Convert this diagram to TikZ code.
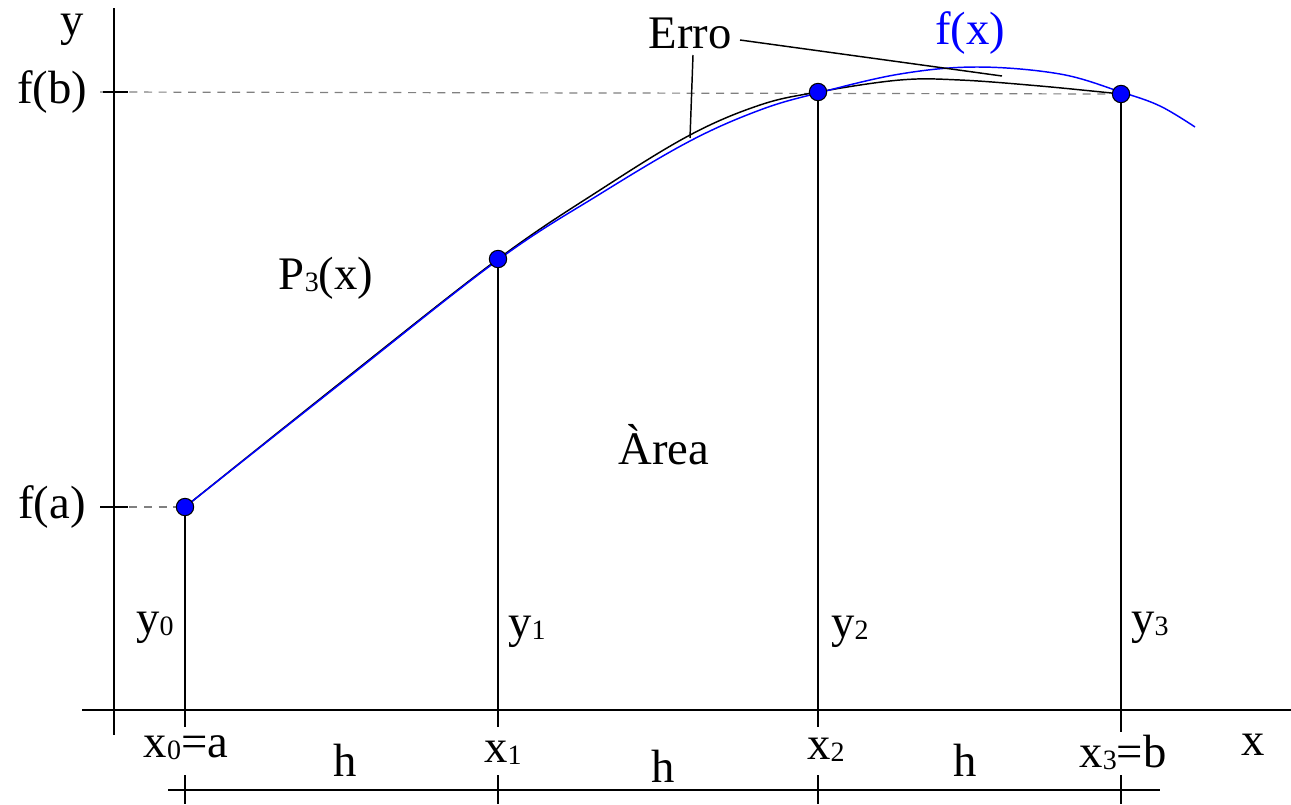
\documentclass[tikz,border=0pt]{standalone}
\usepackage{fontspec}
\setmainfont{Liberation Serif}
\newcommand{\sbs}[1]{\raisebox{-1.5pt}{\fontsize{21}{21}\selectfont #1}}
\begin{document}
\begin{tikzpicture}[x=0.75pt,y=-0.75pt,
  lbl/.style={font=\fontsize{35}{37}\selectfont, inner sep=0pt},
  axis/.style={line width=1.3pt},
  vline/.style={line width=1.3pt},
  guide/.style={gray, line width=0.9pt, dash pattern=on 6pt off 5pt},
  dot/.style={circle, fill=blue, draw=black, line width=0.8pt, minimum size=13pt, inner sep=0pt},
  fcurve/.style={blue, line width=1.1pt},
  pcurve/.style={black, line width=1.1pt}]
\useasboundingbox (0,0) rectangle (1291,804);
% axes
\coordinate (ytop) at (114,8); \coordinate (ybot) at (114,735);
\coordinate (xl) at (82,710); \coordinate (xr) at (1291,710);
\draw[axis] (ytop) -- (ybot);
\draw[axis] (xl) -- (xr);
% points
\coordinate (p0) at (185,507);
\coordinate (p1) at (498,259);
\coordinate (p2) at (818,92);
\coordinate (p3) at (1121,94);
% guides
\coordinate (fbl) at (100,92); \coordinate (fal) at (100,507);
\draw[guide] (fbl) -- (p3);
\draw[guide] (fal) -- (p0);
\coordinate (fbt1) at (103,92); \coordinate (fbt2) at (128,92);
\coordinate (fat1) at (100,507); \coordinate (fat2) at (128,507);
\draw[axis] (fbt1) -- (fbt2);
\draw[axis] (fat1) -- (fat2);
% verticals
\coordinate (b0) at (185,727); \coordinate (b1) at (498,727);
\coordinate (b2) at (818,727); \coordinate (b3) at (1121,732);
\draw[vline] (p0) -- (b0);
\draw[vline] (p1) -- (b1);
\draw[vline] (p2) -- (b2);
\draw[vline] (p3) -- (b3);
% curves
\draw[pcurve] plot[smooth, tension=0.6] coordinates {(185,507) (340,383) (498,259) (600,190) (690,135) (760,105) (818,92) (900,80) (960,80) (1040,86) (1121,94)};
\draw[fcurve] plot[smooth, tension=0.6] coordinates {(185,507) (340,384) (498,260) (600,194) (690,141) (760,110) (818,93) (900,74) (977,67) (1060,74) (1121,92) (1160,106) (1195,127)};
% dots
\node[dot] (d0) at (p0) {};
\node[dot] (d1) at (p1) {};
\node[dot] (d2) at (p2) {};
\node[dot] (d3) at (p3) {};
% bottom dimension line
\coordinate (hl) at (168,790); \coordinate (hr) at (1160,790);
\draw[axis] (hl) -- (hr);
\foreach \xx/\nm in {185/t0,498/t1,818/t2,1121/t3}{
  \coordinate (\nm a) at (\xx,775); \coordinate (\nm b) at (\xx,804);
  \draw[vline] (\nm a) -- (\nm b);
}
% labels
\node[lbl] (ly) at (72,30) {y};
\node[lbl] (lfb) at (52,92) {f(b)};
\node[lbl] (lfa) at (52,507) {f(a)};
\node[lbl] (lx) at (1253,745) {x};
\node[lbl] (lp3) at (326,278) {P\sbs{3}(x)};
\node[lbl] (larea) at (664,445) {Àrea};
\node[lbl] (lerro) at (690,33) {Erro};
\node[lbl, text=blue] (lfx) at (970,33) {f(x)};
\node[lbl] (ly0) at (155,628) {y\sbs{0}};
\node[lbl] (ly1) at (527,632) {y\sbs{1}};
\node[lbl] (ly2) at (850,632) {y\sbs{2}};
\node[lbl] (ly3) at (1150,628) {y\sbs{3}};
\node[lbl] (lx0) at (186,748) {x\sbs{0}=a};
\node[lbl] (lx1) at (503,753) {x\sbs{1}};
\node[lbl] (lx2) at (826,750) {x\sbs{2}};
\node[lbl] (lx3) at (1123,752) {x\sbs{3}=b};
\node[lbl] (lh1) at (345,760) {h};
\node[lbl] (lh2) at (663,766) {h};
\node[lbl] (lh3) at (965,760) {h};
% Erro leaders
\coordinate (e1) at (693,55); \coordinate (e1b) at (690,138);
\coordinate (e2) at (740,40); \coordinate (e2b) at (1002,76);
\draw[line width=1.1pt] (e1) -- (e1b);
\draw[line width=1.1pt] (e2) -- (e2b);
\end{tikzpicture}
\end{document}
